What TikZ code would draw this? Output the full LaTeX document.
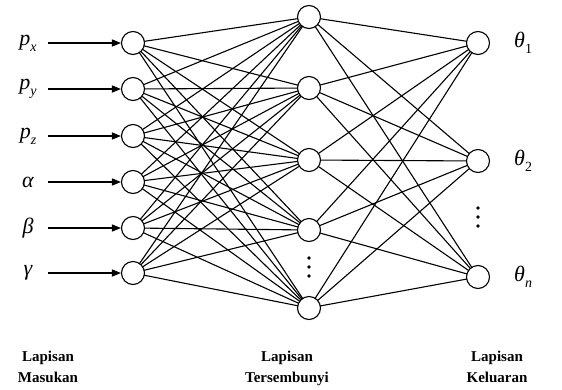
\documentclass[tikz,border=0pt]{standalone}
\usepackage{fontspec}
\setmainfont{Liberation Serif}
\usetikzlibrary{arrows.meta}
\newcommand{\sbx}[1]{\raisebox{-0.28em}{\fontsize{14}{14}\selectfont\itshape #1}}
\newcommand{\sbn}[1]{\raisebox{-0.28em}{\fontsize{14}{14}\selectfont\upshape #1}}
\begin{document}
\begin{tikzpicture}[x=1pt,y=-1pt,
  neuron/.style={circle,draw,line width=1.1pt,minimum size=23pt,inner sep=0pt,fill=white},
  conn/.style={line width=1.1pt},
  inarrow/.style={line width=1.5pt,-{Triangle[length=9pt,width=7pt]}},
  mlabel/.style={font=\fontsize{22}{24}\selectfont\itshape,inner sep=0pt},
  dotsym/.style={circle,fill=black,inner sep=0pt,minimum size=3.8pt},
  layerlabel/.style={font=\fontsize{15}{21}\selectfont\bfseries,align=center,anchor=north,inner sep=0pt}]
\useasboundingbox (0,0) rectangle (562,389);
% connections first
\foreach \i/\y in {1/43,2/89,3/136,4/182,5/228,6/273}
  \coordinate (ci\i) at (133,\y);
\foreach \h/\y in {1/17,2/88,3/160,4/230,5/308}
  \coordinate (ch\h) at (309,\y);
\foreach \o/\y in {1/43,2/161,3/277}
  \coordinate (co\o) at (478,\y);
\foreach \i in {1,...,6}
  \foreach \h in {1,...,5}
    \draw[conn] (ci\i) -- (ch\h);
\foreach \h in {1,...,5}
  \foreach \o in {1,...,3}
    \draw[conn] (ch\h) -- (co\o);
% nodes on top
\foreach \i in {1,...,6}
  \node[neuron] (i\i) at (ci\i) {};
\foreach \h in {1,...,5}
  \node[neuron] (h\h) at (ch\h) {};
\foreach \o in {1,...,3}
  \node[neuron] (o\o) at (co\o) {};
% input labels and arrows
\foreach \i/\y/\t in {1/43/{p\sbx{x}},2/89/{p\sbx{y}},3/136/{p\sbx{z}},4/182/α,5/228/β,6/273/γ}{
  \node[mlabel] (l\i) at (28,\y) {\t};
  \coordinate (s\i) at (48,\y);
  \draw[inarrow] (s\i) -- (i\i);
}
% output labels
\node[mlabel,anchor=west] (t1) at (514,43) {θ\sbn{1}};
\node[mlabel,anchor=west] (t2) at (514,161) {θ\sbn{2}};
\node[mlabel,anchor=west] (t3) at (514,277) {θ\sbx{n}};
% dots
\foreach \k/\y in {1/258,2/267,3/276}
  \node[dotsym] (dh\k) at (309,\y) {};
\foreach \k/\y in {1/208,2/217,3/226}
  \node[dotsym] (do\k) at (478,\y) {};
% layer labels
\node[layerlabel] (L1) at (48,351) {Lapisan\\Masukan};
\node[layerlabel] (L2) at (287,351) {Lapisan\\Tersembunyi};
\node[layerlabel] (L3) at (497,351) {Lapisan\\Keluaran};
\end{tikzpicture}
\end{document}
